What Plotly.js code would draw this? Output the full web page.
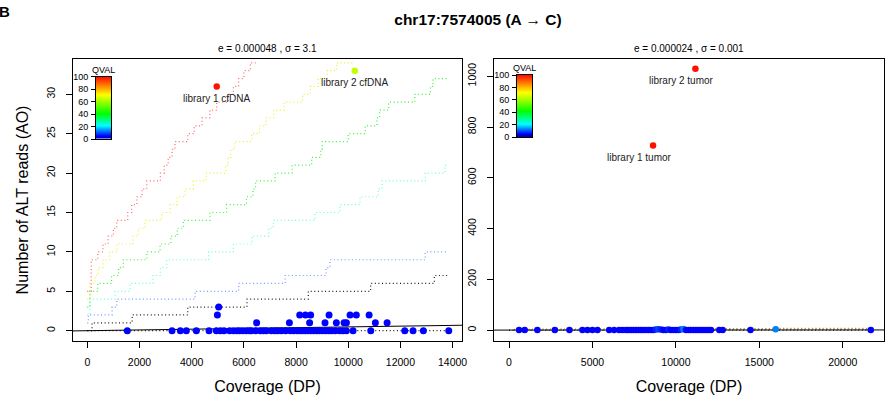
<!DOCTYPE html>
<html>
<head>
<meta charset="utf-8">
<script src="https://cdn.plot.ly/plotly-3.0.1.min.js"></script>
<style>html,body{margin:0;padding:0;background:#fff}#chart{width:886px;height:405px}</style>
</head>
<body>
<div id="chart"></div>
<script>
// ---------- text ----------
const mainTitle = "chr17:7574005 (A \u2192 C)";
const panelLabel = "B";
const leftSubtitle = "e = 0.000048 , \u03c3 = 3.1";
const rightSubtitle = "e = 0.000024 , \u03c3 = 0.001";
const xTitle = "Coverage (DP)";
const yTitle = "Number of ALT reads (AO)";
const legendTitle = "QVAL";

// ---------- tick values ----------
const leftXTicks = [0, 2000, 4000, 6000, 8000, 10000, 12000, 14000];
const leftYTicks = [0, 5, 10, 15, 20, 25, 30];
const rightXTicks = [0, 5000, 10000, 15000, 20000];
const rightYTicks = [0, 200, 400, 600, 800, 1000];
const qvalTicks = [0, 20, 40, 60, 80, 100];

// ---------- left panel: sites (DP, AO, QVAL) ----------
const leftDP = [1533, 3247, 3566, 3796, 4180, 4665, 4946, 5100, 5240, 5457, 5600, 5738, 5840, 5960, 6095, 6200, 6287, 6455, 6631, 6750, 6861, 7050, 7183, 7300, 7436, 7600, 7781, 7900, 8038, 8150, 8241, 8350, 8460, 8560, 8678, 8800, 8908, 9020, 9138, 9250, 9353, 9500, 9674, 9800, 9928, 10185, 10863, 12166, 12484, 12880, 13852,
  6490, 7745, 8520, 9110, 9545, 9840, 9930, 11040, 11490,
  4985, 8140, 8360, 8560, 9265, 10070, 10310, 10800,
  5036];
const leftAO = [0,0,0,0,0,0,0,0,0,0,0,0,0,0,0,0,0,0,0,0,0,0,0,0,0,0,0,0,0,0,0,0,0,0,0,0,0,0,0,0,0,0,0,0,0,0,0,0,0,0,0,
  1,1,1,1,1,1,1,1,1,
  2,2,2,2,2,2,2,2,
  3];
const leftQ = leftAO.map(() => 6);

// left panel: libraries
const leftLibDP = [4960, 10250];
const leftLibAO = [31, 33];
const leftLibQ = [100, 65];
const leftLibNames = ["library 1 cfDNA", "library 2 cfDNA"];

// ---------- right panel: sites ----------
const rightDP = [600, 940, 1700, 2745, 3620, 4400, 4700, 5000, 5300, 6000, 6300, 6600, 6800, 7000, 7150, 7300, 7450, 7600, 7750, 7900, 8050, 8200, 8350, 8500, 8650, 8800, 8950, 9100, 9250, 9400, 9550, 9700, 9850, 10000, 10150, 10300, 10450, 10600, 10750, 10900, 11050, 11200, 11350, 11500, 11650, 11800, 11950, 12100, 12600, 12800, 14470, 15980, 21680];
const rightAO = [0,0,0,0,0,0,0,0,0,0,0,0,0,0,0,0,0,0,0,0,0,0,0,0,0,2,3,2,0,0,2,0,0,0,0,2,4,0,0,0,0,0,0,0,0,0,0,0,0,0,0,3,0];
const rightQ = [6,6,6,6,6,6,6,6,6,6,6,6,6,6,6,6,6,6,6,6,6,6,6,6,6,8,10,8,6,6,8,6,6,6,6,8,14,6,6,6,6,6,6,6,6,6,6,6,6,6,6,14,6];

const rightLibDP = [8630, 11170];
const rightLibAO = [727, 1030];
const rightLibQ = [100, 100];
const rightLibNames = ["library 1 tumor", "library 2 tumor"];

// ---------- threshold curves (step points: DP where level starts, AO level) ----------
const curveColors = ["#000000", "#5f8fff", "#55ffe0", "#33ee33", "#eeee22", "#ff4c4c"];
const lBlackDP = [0, 180, 1720, 3850, 6120, 8470, 10860, 13300, 13830];
const lBlackAO = [0, 1, 2, 3, 4, 5, 6, 7, 7];
const lBlueDP = [0, 40, 950, 1130, 4130, 5800, 7580, 9150, 9300, 12950, 13780];
const lBlueAO = [1, 2, 3, 4, 5, 6, 7, 8, 9, 10, 10];
const lCyanDP = [0, 100, 1060, 1640, 2520, 2800, 3040, 4650, 5600, 6300, 6950, 7130, 8730, 9690, 10450, 11150, 11300, 12950, 13700, 13800];
const lCyanAO = [2, 4, 5, 6, 7, 8, 9, 10, 11, 12, 13, 14, 15, 16, 17, 18, 19, 20, 21, 21];
const lGreenDP = [0, 100, 400, 930, 1200, 1380, 2280, 2790, 3200, 3450, 3680, 4700, 5340, 6100, 6350, 6450, 7200, 7850, 8600, 8950, 9000, 10000, 10650, 11100, 11200, 11550, 12550, 13150, 13250, 13800];
const lGreenAO = [3, 5, 6, 7, 8, 9, 10, 11, 12, 13, 14, 15, 16, 17, 18, 19, 20, 21, 22, 23, 24, 25, 26, 27, 28, 29, 30, 31, 32, 32];
const lYellowDP = [0, 100, 300, 420, 600, 850, 1130, 1750, 1950, 2210, 2850, 3170, 3450, 3750, 4060, 4550, 5300, 5400, 5500, 5650, 6300, 6600, 6850, 7150, 7550, 8250, 8550, 8850, 9200, 9550, 10200];
const lYellowAO = [4, 6, 7, 8, 9, 10, 11, 12, 13, 14, 15, 16, 17, 18, 19, 20, 21, 22, 23, 24, 25, 26, 27, 28, 29, 30, 31, 32, 33, 34, 34];
const lRedDP = [0, 150, 400, 600, 800, 1000, 1130, 1550, 1700, 1900, 2100, 2280, 2800, 2950, 3100, 3250, 3360, 3850, 4100, 4400, 4700, 4960, 5400, 5600, 5800, 6000, 6250, 6450];
const lRedAO = [5, 9, 10, 11, 12, 13, 14, 15, 16, 17, 18, 19, 20, 21, 22, 23, 24, 25, 26, 27, 28, 29, 30, 31, 32, 33, 34, 34];
const lZeroDP = [0, 13850];
const lZeroAO = [0, 0];

const rBlackDP = [0, 21700];
const rBlackAO = [0, 0];
const rBlueDP = [300, 6000, 15000, 21700];
const rBlueAO = [1, 2, 3, 3];
const rCyanDP = [300, 4000, 11000, 21700];
const rCyanAO = [2, 3, 4, 4];
const rGreenDP = [300, 3000, 9000, 16000, 21700];
const rGreenAO = [2, 3, 4, 5, 5];
const rYellowDP = [300, 2000, 7000, 13000, 21700];
const rYellowAO = [3, 4, 5, 6, 6];
const rRedDP = [300, 1500, 5000, 10000, 16000, 21700];
const rRedAO = [3, 4, 5, 6, 7, 8];

// expected-error lines (AO = e * DP), endpoints
const eLeftDP = [-548, 14360];
const eLeftAO = [-0.03, 0.69];
const eRightDP = [-900, 22470];
const eRightAO = [-0.02, 0.54];

// ---------- styling ----------
const FONT = "Liberation Sans, Arial, Helvetica, sans-serif";
const qvalScale = [[0, "#00008f"], [0.06, "#0000ff"], [0.22, "#00ffff"], [0.42, "#00ff00"], [0.62, "#aaff00"], [0.72, "#ffff00"], [0.85, "#ff9000"], [1, "#ff1000"]];

function curve(xs, ys, color, xa, ya, opacity) {
  return {type: "scatter", mode: "lines", x: xs, y: ys, xaxis: xa, yaxis: ya,
    line: {color: color, width: 1.2, dash: "1px,2.6px", shape: "hv"}, opacity: opacity, hoverinfo: "skip", showlegend: false};
}
function dots(xs, ys, q, xa, ya, size) {
  return {type: "scatter", mode: "markers", x: xs, y: ys, xaxis: xa, yaxis: ya,
    marker: {size: size, color: q, colorscale: qvalScale, cmin: 0, cmax: 100, showscale: false, line: {width: 0}},
    showlegend: false};
}
function colorBar(xa, ya) {
  return {type: "heatmap", x: [0, 1], y: qvalTicks, z: qvalTicks.map(v => [v, v]), xaxis: xa, yaxis: ya,
    colorscale: qvalScale, zmin: 0, zmax: 100, zsmooth: "best", showscale: false, hoverinfo: "skip"};
}

const traces = [
  curve(lZeroDP, lZeroAO, curveColors[0], "x", "y", 0.9),
  curve(lBlackDP, lBlackAO, curveColors[0], "x", "y", 0.9),
  curve(lBlueDP, lBlueAO, curveColors[1], "x", "y", 0.9),
  curve(lCyanDP, lCyanAO, curveColors[2], "x", "y", 0.9),
  curve(lGreenDP, lGreenAO, curveColors[3], "x", "y", 0.95),
  curve(lYellowDP, lYellowAO, curveColors[4], "x", "y", 0.95),
  curve(lRedDP, lRedAO, curveColors[5], "x", "y", 0.85),
  {type: "scatter", mode: "lines", x: eLeftDP, y: eLeftAO, xaxis: "x", yaxis: "y", line: {color: "#000", width: 1}, showlegend: false, hoverinfo: "skip"},
  dots(leftDP, leftAO, leftQ, "x", "y", 7),
  dots(leftLibDP, leftLibAO, leftLibQ, "x", "y", 6.5),

  curve(rBlackDP, rBlackAO, curveColors[0], "x2", "y2", 0.9),
  curve(rBlueDP, rBlueAO, curveColors[1], "x2", "y2", 0.9),
  curve(rCyanDP, rCyanAO, curveColors[2], "x2", "y2", 0.9),
  curve(rGreenDP, rGreenAO, curveColors[3], "x2", "y2", 0.9),
  curve(rYellowDP, rYellowAO, curveColors[4], "x2", "y2", 0.9),
  curve(rRedDP, rRedAO, curveColors[5], "x2", "y2", 0.85),
  {type: "scatter", mode: "lines", x: eRightDP, y: eRightAO, xaxis: "x2", yaxis: "y2", line: {color: "#000", width: 1}, showlegend: false, hoverinfo: "skip"},
  dots(rightDP, rightAO, rightQ, "x2", "y2", 6.5),
  dots(rightLibDP, rightLibAO, rightLibQ, "x2", "y2", 6.5),

  colorBar("x3", "y3"),
  colorBar("x4", "y4")
];

const tickFont = {family: FONT, size: 10.5, color: "#000"};
function baseAxis(ticks, extra) {
  return Object.assign({showgrid: false, zeroline: false, showline: true, mirror: true, linecolor: "#000", linewidth: 1,
    ticks: "outside", ticklen: 6, tickwidth: 1, tickcolor: "#000", tickfont: tickFont, tickmode: "array",
    tickvals: ticks, ticktext: ticks.map(String), fixedrange: true}, extra);
}

const W = 886, H = 405, mL = 73, mR = 2, mT = 59, mB = 64;
const pw = W - mL - mR, ph = H - mT - mB;
const px = v => (v - mL) / pw;          // pixel x -> paper
const py = v => (H - mB - v) / ph;      // pixel y -> paper

const layout = {
  width: W, height: H,
  margin: {l: mL, r: mR, t: mT, b: mB},
  paper_bgcolor: "#fff", plot_bgcolor: "#fff",
  font: {family: FONT, color: "#000"},
  showlegend: false,
  title: {text: "<b>" + mainTitle + "</b>", x: 478 / W, y: 1 - 20 / H, xanchor: "center", yanchor: "middle", xref: "container", yref: "container",
    font: {family: FONT, size: 15.5, color: "#000"}},
  xaxis: baseAxis(leftXTicks, {domain: [0, px(462)], range: [-548, 14360], ticklabelstandoff: 5, anchor: "y",
    title: {text: xTitle, font: {family: FONT, size: 16}, standoff: 14}}),
  yaxis: baseAxis(leftYTicks, {domain: [0, 1], range: [-1.31, 34.48], tickangle: -90, ticklabelstandoff: 7, anchor: "x",
    title: {text: yTitle, font: {family: FONT, size: 16}, standoff: 12}}),
  xaxis2: baseAxis(rightXTicks, {domain: [px(494), px(884)], range: [-900, 22470], ticklabelstandoff: 5, anchor: "y2",
    title: {text: xTitle, font: {family: FONT, size: 16}, standoff: 14}}),
  yaxis2: baseAxis(rightYTicks, {domain: [0, 1], range: [-43, 1068], tickangle: -90, ticklabelstandoff: 7, anchor: "x2"}),
  xaxis3: {domain: [px(96), px(111)], range: [-0.5, 1.5], showticklabels: false, ticks: "", showgrid: false, zeroline: false,
    showline: true, mirror: true, linecolor: "#000", linewidth: 1, anchor: "y3", fixedrange: true},
  yaxis3: {domain: [py(139), py(76.5)], range: [0, 100], tickmode: "array", tickvals: qvalTicks, ticktext: qvalTicks.map(String),
    ticks: "outside", ticklen: 4, tickcolor: "#000", tickfont: {family: FONT, size: 9, color: "#000"}, ticklabelstandoff: 1,
    showgrid: false, zeroline: false, showline: true, mirror: true, linecolor: "#000", linewidth: 1, anchor: "x3", fixedrange: true},
  xaxis4: {domain: [px(517), px(532)], range: [-0.5, 1.5], showticklabels: false, ticks: "", showgrid: false, zeroline: false,
    showline: true, mirror: true, linecolor: "#000", linewidth: 1, anchor: "y4", fixedrange: true},
  yaxis4: {domain: [py(137), py(75)], range: [0, 100], tickmode: "array", tickvals: qvalTicks, ticktext: qvalTicks.map(String),
    ticks: "outside", ticklen: 4, tickcolor: "#000", tickfont: {family: FONT, size: 9, color: "#000"}, ticklabelstandoff: 1,
    showgrid: false, zeroline: false, showline: true, mirror: true, linecolor: "#000", linewidth: 1, anchor: "x4", fixedrange: true},
  annotations: []
};

const ann = layout.annotations;
ann.push({text: "<b>" + panelLabel + "</b>", xref: "paper", yref: "paper", x: px(-3), y: py(12), xanchor: "left", yanchor: "middle",
  showarrow: false, font: {family: FONT, size: 15, color: "#000"}});
ann.push({text: leftSubtitle, xref: "x domain", yref: "paper", x: 0.5, y: py(48), xanchor: "center", yanchor: "middle",
  showarrow: false, font: {family: FONT, size: 10, color: "#000"}});
ann.push({text: rightSubtitle, xref: "x2 domain", yref: "paper", x: 0.5, y: py(48), xanchor: "center", yanchor: "middle",
  showarrow: false, font: {family: FONT, size: 10, color: "#000"}});
ann.push({text: legendTitle, xref: "x3 domain", yref: "y3 domain", x: 0.5, y: 1, xanchor: "center", yanchor: "bottom",
  showarrow: false, font: {family: FONT, size: 9, color: "#000"}});
ann.push({text: legendTitle, xref: "x4 domain", yref: "y4 domain", x: 0.5, y: 1, xanchor: "center", yanchor: "bottom",
  showarrow: false, font: {family: FONT, size: 9, color: "#000"}});
leftLibNames.forEach((n, i) => ann.push({text: n, xref: "x", yref: "y", x: leftLibDP[i], y: leftLibAO[i], yshift: -12,
  xanchor: "center", yanchor: "middle", showarrow: false, font: {family: FONT, size: 10, color: "#222"}}));
rightLibNames.forEach((n, i) => ann.push({text: n, xref: "x2", yref: "y2", x: rightLibDP[i], y: rightLibAO[i], yshift: -12, xshift: -14,
  xanchor: "center", yanchor: "middle", showarrow: false, font: {family: FONT, size: 10, color: "#222"}}));

Plotly.newPlot("chart", traces, layout, {displayModeBar: false, staticPlot: true});
</script>
</body>
</html>
